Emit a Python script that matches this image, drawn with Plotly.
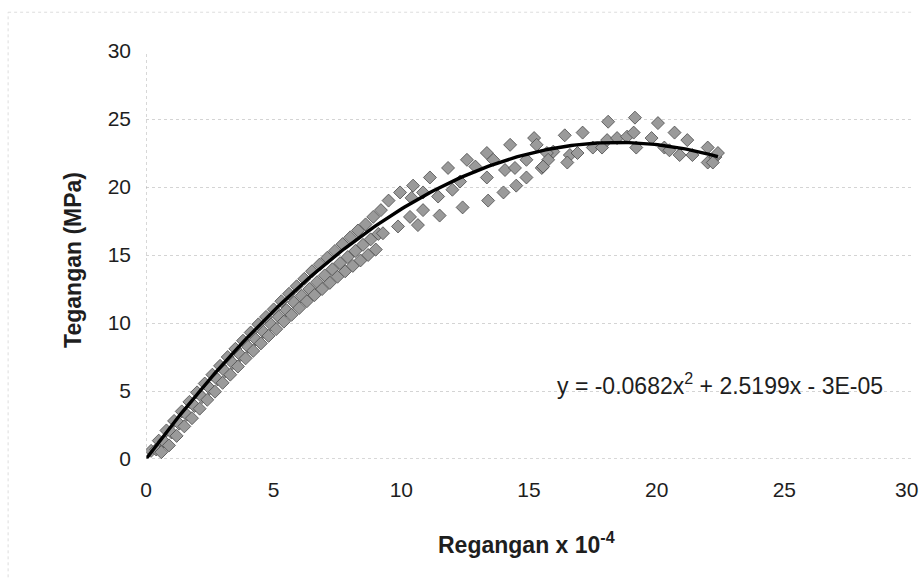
import numpy as np
import plotly.graph_objects as go

# ---- data (strain x 10^-4, stress MPa) ----
spec_a_x = [0.2, 0.5, 0.8, 1.1, 1.4, 1.7, 2.0, 2.3, 2.6, 2.9, 3.2, 3.5, 3.8, 4.1, 4.4,
            4.7, 5.0, 5.3, 5.6, 5.9, 6.2, 6.5, 6.8, 7.1, 7.4, 7.7, 8.0, 8.3, 8.6, 8.9,
            9.5, 9.95, 10.46, 11.12, 11.83, 12.57, 12.9, 13.35, 13.6, 14.26, 14.9, 15.2,
            15.3, 15.95, 16.4, 17.1, 18.1, 19.15, 20.05, 20.7, 21.2, 22.0]
spec_a_y = [0.6, 1.35, 2.1, 2.8, 3.5, 4.2, 4.9, 5.55, 6.2, 6.85, 7.5, 8.1, 8.7, 9.3, 9.9,
            10.45, 11.0, 11.6, 12.15, 12.7, 13.25, 13.8, 14.3, 14.8, 15.3, 15.8, 16.3, 16.8, 17.25, 17.8,
            19.0, 19.6, 20.1, 20.7, 21.4, 22.0, 21.5, 22.5, 22.0, 23.1, 22.0, 23.6,
            23.1, 22.6, 23.8, 24.0, 24.8, 25.1, 24.7, 24.0, 23.45, 22.9]

spec_b_x = [0.4, 0.7, 1.0, 1.3, 1.6, 1.9, 2.2, 2.5, 2.8, 3.1, 3.4, 3.7, 4.0, 4.3,
            4.6, 4.9, 5.2, 5.5, 5.8, 6.1, 6.4, 6.7, 7.0, 7.3, 7.6, 7.9, 8.2, 8.5, 8.8, 9.1,
            9.2, 10.4, 10.85, 10.85, 11.44, 12.0, 12.3, 13.35, 14.06, 14.45, 15.5, 15.7, 15.75,
            16.6, 16.9, 17.5, 17.86, 18.06, 18.45, 18.84, 19.1, 19.8, 20.3, 20.9, 21.4, 22.0, 22.3]
spec_b_y = [0.7, 1.3, 1.95, 2.6, 3.25, 3.9, 4.55, 5.2, 5.85, 6.45, 7.05, 7.65, 8.25, 8.8,
            9.35, 9.9, 10.45, 10.95, 11.5, 12.0, 12.5, 13.0, 13.5, 13.95, 14.4, 14.85, 15.3, 15.75, 16.15, 16.55,
            18.3, 19.2, 18.3, 19.6, 19.3, 19.8, 20.4, 20.7, 21.25, 21.4, 21.4, 22.5, 22.0,
            22.35, 22.5, 22.9, 22.9, 23.45, 23.6, 23.7, 24.0, 23.6, 22.9, 22.35, 22.35, 21.8, 22.2]

spec_c_x = [0.6, 0.9, 1.2, 1.5, 1.8, 2.1, 2.4, 2.7, 3.0, 3.3, 3.6, 3.9, 4.2, 4.5, 4.8,
            5.1, 5.4, 5.7, 6.0, 6.3, 6.6, 6.9, 7.2, 7.5, 7.8, 8.1, 8.4, 8.7, 9.0,
            9.28, 9.87, 10.34, 10.65, 11.5, 12.4, 13.4, 14.0, 14.5, 14.9, 15.55, 16.5,
            19.2, 20.5, 22.2, 22.4]
spec_c_y = [0.5, 1.0, 1.7, 2.4, 3.0, 3.7, 4.35, 4.95, 5.6, 6.2, 6.8, 7.4, 7.95, 8.5, 9.05,
            9.55, 10.1, 10.6, 11.1, 11.6, 12.05, 12.5, 12.95, 13.4, 13.8, 14.2, 14.6, 15.0, 15.4,
            16.6, 17.1, 17.8, 17.2, 17.9, 18.5, 19.0, 19.6, 20.1, 20.7, 21.5, 21.8,
            22.9, 22.7, 21.8, 22.5]

# polynomial trendline shown on the chart: y = a x^2 + b x + c
trend_a, trend_b, trend_c = -0.0682, 2.5199, -3e-05
trend_x_max = 22.4

x_ticks = [0, 5, 10, 15, 20, 25]
x_last_tick = 30
y_ticks = [0, 5, 10, 15, 20, 25, 30]

FONT = "Liberation Sans, Arial, sans-serif"
TXT = "#1e1e1e"

fig = go.Figure()
marker = dict(symbol="diamond", size=10, color="#9a9a9a",
              line=dict(color="#4a4a4a", width=0.8))
for xs, ys in [(spec_a_x, spec_a_y), (spec_b_x, spec_b_y), (spec_c_x, spec_c_y)]:
    fig.add_trace(go.Scatter(x=xs, y=ys, mode="markers", marker=marker,
                             showlegend=False, hoverinfo="skip"))

tx = np.linspace(0, trend_x_max, 200)
ty = trend_a * tx ** 2 + trend_b * tx + trend_c
fig.add_trace(go.Scatter(x=tx, y=ty, mode="lines", line=dict(color="black", width=3.4),
                         showlegend=False, hoverinfo="skip"))

axis_common = dict(showline=False, zeroline=False, ticks="",
                   tickfont=dict(family=FONT, size=21, color=TXT))
fig.update_xaxes(range=[0, 30], tickvals=x_ticks, showgrid=False,
                 ticklabelstandoff=16, **axis_common)
fig.update_yaxes(range=[0, 30], tickvals=y_ticks, showgrid=True,
                 gridcolor="#d4d4d4", griddash="dot", gridwidth=1,
                 ticklabelstandoff=14, **axis_common)

# last x tick label kept inside the page
fig.add_annotation(xref="paper", yref="paper", x=1.011, y=-0.075, xanchor="right",
                   yanchor="middle", text=str(x_last_tick), showarrow=False,
                   font=dict(family=FONT, size=21, color=TXT))

# dotted axis lines
fig.add_shape(type="line", xref="x", yref="y", x0=0, x1=30, y0=0, y1=0,
              line=dict(color="#b0b0b0", width=1, dash="dot"))
fig.add_shape(type="line", xref="x", yref="y", x0=0, x1=0, y0=0, y1=30,
              line=dict(color="#b0b0b0", width=1, dash="dot"))
# faint chart-area border from the scan
fig.add_shape(type="line", xref="paper", yref="paper", x0=-0.18, x1=1.0, y0=1.095, y1=1.095,
              line=dict(color="#dddddd", width=1, dash="dot"))
fig.add_shape(type="line", xref="paper", yref="paper", x0=-0.18, x1=-0.18, y0=-0.29, y1=1.095,
              line=dict(color="#dddddd", width=1, dash="dot"))

fig.add_annotation(xref="paper", yref="paper", x=-0.0953, y=0.488,
                   xanchor="center", yanchor="middle",
                   text="<b>Tegangan (MPa)</b>", textangle=-90, showarrow=False,
                   font=dict(family=FONT, size=23, color=TXT))
fig.add_annotation(xref="paper", yref="paper", x=0.497, y=-0.206,
                   xanchor="center", yanchor="middle",
                   text="<b>Regangan x 10<sup>-4</sup></b>", showarrow=False,
                   font=dict(family=FONT, size=23, color=TXT))
fig.add_annotation(xref="x", yref="y", x=16.0, y=5.55, xanchor="left", yanchor="middle",
                   text="y = -0.0682x<sup>2</sup> + 2.5199x - 3E-05", showarrow=False,
                   font=dict(family=FONT, size=23, color=TXT))

fig.update_layout(width=920, height=584, margin=dict(l=146, r=8, t=51, b=125),
                  plot_bgcolor="white", paper_bgcolor="white")
fig.write_html("out.html")
